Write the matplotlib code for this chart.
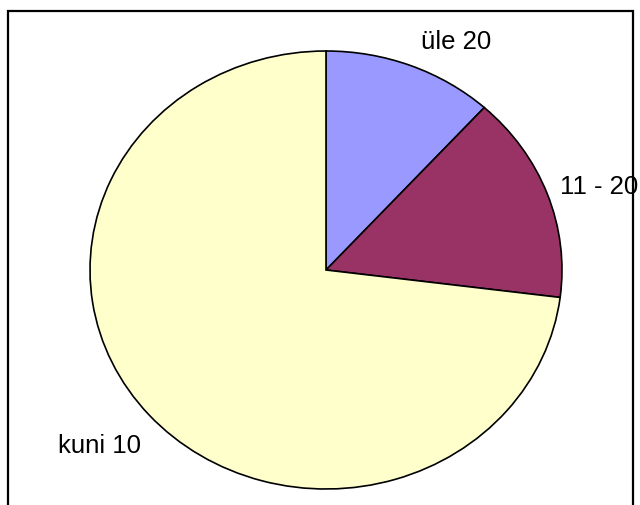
import matplotlib.pyplot as plt
from matplotlib.patches import Rectangle

plt.rcParams['font.family'] = ['Liberation Sans', 'DejaVu Sans']

labels = ['üle 20', '11 - 20', 'kuni 10']
values = [11.7, 15.3, 73.0]
colors = ['#9999FF', '#993366', '#FFFFCC']
# label baselines in pie units (x, y)
label_pos = [(0.551, 1.014), (1.157, 0.352), (-0.958, -0.831)]

W, H = 640, 506
fig = plt.figure(figsize=(W / 100, H / 100), dpi=100)

ax = fig.add_axes([90 / W, 16 / H, 472 / W, 438 / H])
ax.pie(values, colors=colors, startangle=90, counterclock=False,
       wedgeprops=dict(edgecolor='black', linewidth=1.2))
ax.set_aspect('auto')
ax.set_xlim(-1, 1)
ax.set_ylim(-1, 1)
ax.axis('off')

for lab, (x, y) in zip(labels, label_pos):
    ax.text(x, y, lab, ha='center', va='baseline', fontsize=18.5, clip_on=False)

# outer frame, its bottom edge runs off the picture
fig.patches.append(Rectangle((8 / W, -0.1), 625 / W, 1.1 - 12 / H, transform=fig.transFigure,
                             fill=False, edgecolor='black', linewidth=1.6, zorder=5))

fig.savefig('out.png', dpi=100)
